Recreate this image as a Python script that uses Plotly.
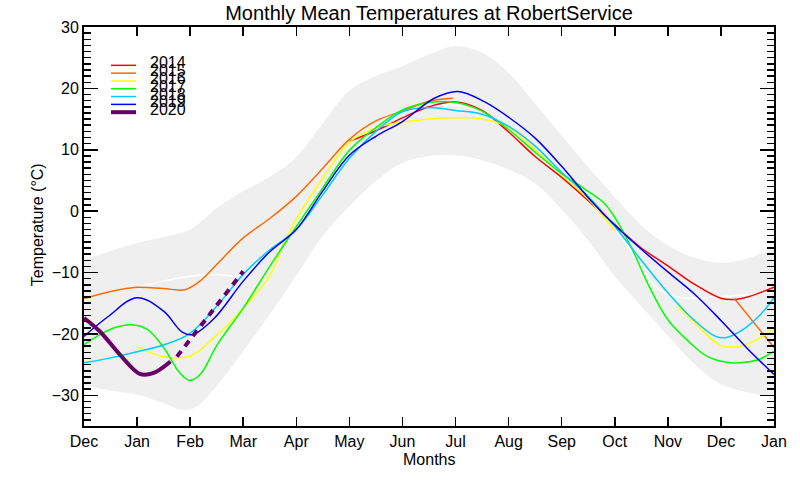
import plotly.graph_objects as go

# ---------------- data ----------------
month_labels = ["Dec", "Jan", "Feb", "Mar", "Apr", "May", "Jun", "Jul",
                "Aug", "Sep", "Oct", "Nov", "Dec", "Jan"]
month_pos = list(range(14))

band_up_x = [0, 0.5, 1, 1.5, 2, 2.5, 3, 3.5, 4, 4.5, 5, 5.5, 6, 6.5, 7, 7.5, 8,
             8.5, 9, 9.5, 10, 10.5, 11, 11.5, 12, 12.5, 13]
band_up_y = [-7.9, -6.5, -5.2, -4.2, -3.0, 0.5, 3.3, 5.6, 8.8, 14.3, 19.6, 22.0,
             23.6, 25.5, 26.9, 25.8, 22.5, 17.5, 12.3, 7.2, 2.3, -2.3, -5.6,
             -7.6, -8.4, -7.7, -6.0]
band_lo_x = [0, 0.5, 1, 1.5, 1.85, 2.1, 2.5, 3, 3.5, 4, 4.5, 5, 5.5, 6, 6.5, 7,
             7.5, 8, 8.5, 9, 9.5, 10, 10.5, 11, 11.5, 12, 12.5, 13]
band_lo_y = [-28.5, -29.2, -29.9, -31.3, -32.4, -32.0, -28.5, -22.8, -16.8,
             -10.5, -4.0, 0.8, 4.9, 7.9, 9.0, 9.1, 8.3, 6.8, 4.5, 0.3, -4.8,
             -10.6, -15.5, -20.3, -24.9, -28.2, -29.5, -30.2]

mean_x = [0, 0.5, 1, 1.5, 2, 2.5, 2.95, 3.5, 4, 4.5, 5, 5.5, 6, 6.5, 7, 7.5, 8,
          8.5, 9, 9.5, 9.85, 10.35, 10.8, 11.25, 12, 12.5, 13]
mean_y = [-14.25, -13.1, -12.4, -11.4, -10.6, -10.3, -10.5, -6.2, -2.8, 3.0,
          9.0, 13.3, 16.0, 17.0, 17.3, 16.0, 13.6, 9.8, 5.5, 1.5, -1.1, -7.1,
          -12.5, -14.1, -13.9, -13.6, -13.2]

years = ["2014", "2015", "2016", "2017", "2018", "2019", "2020"]
colors = ["#ff0000", "#ff6a00", "#ffff00", "#00ff00", "#00ccff", "#0000ee", "#660066"]

y2014_x = [5, 5.5, 6, 6.5, 7, 7.5, 8, 8.5, 9, 9.5, 10, 10.5, 11, 11.5, 12, 12.25, 12.5, 13]
y2014_y = [11.4, 13.1, 15.2, 17.0, 17.8, 16.4, 12.9, 8.9, 5.5, 1.7, -2.2, -6.0,
           -8.9, -11.9, -14.2, -14.4, -14.0, -12.4]

y2015_x = [0, 0.5, 1, 1.5, 1.9, 2.2, 2.5, 3, 3.5, 4, 4.5, 5, 5.5, 6, 6.5, 6.95,
           None, 12.26, 13]
y2015_y = [-14.25, -13.1, -12.4, -12.6, -12.8, -11.3, -8.7, -4.35, -1.2, 2.4,
           7.0, 11.7, 14.7, 16.3, 17.9, 18.4, None, -14.3, -22.2]

y2016_x = [1, 1.5, 2, 2.5, 3, 3.5, 3.75, 4, 4.5, 5, 5.5, 6, 6.5, 7, 7.5, 8, 8.5,
           9, 9.5, 10.0, None, 11.2, 11.6, 12, 12.35, 12.75, 13]
y2016_y = [-22.1, -23.7, -23.6, -20.2, -15.8, -10.5, -5.5, -1.3, 5.4, 11.2, 13.6,
           14.5, 15.0, 15.2, 15.0, 13.7, 10.0, 5.9, 2.0, -3.2, None, -15.5,
           -19.0, -21.9, -22.0, -20.6, -19.0]

y2017_x = [0, 0.3, 0.6, 0.9, 1.2, 1.5, 1.8, 2.0, 2.2, 2.5, 3, 3.5, 4, 4.5, 5,
           5.5, 6, 6.5, 7, 7.5, 8, 8.5, 9, 9.4, 9.8, 10, 10.3, 10.65, 11, 11.4,
           11.75, 12.2, 12.7, 13]
y2017_y = [-21.75, -20.1, -18.9, -18.5, -19.3, -22.2, -26.3, -27.6, -26.5,
           -21.9, -15.8, -9.0, -2.5, 3.8, 9.9, 13.6, 16.5, 17.7, 17.7, 16.3,
           13.3, 9.6, 6.1, 3.8, 1.3, -1.0, -5.7, -12.3, -17.7, -21.3, -23.7,
           -24.7, -24.2, -22.8]

y2018_x = [0, 0.5, 1, 1.5, 2, 2.5, 3, 3.5, 4, 4.5, 5, 5.5, 6, 6.5, 7, 7.5, 8,
           8.5, 9, 9.5, 10, 10.5, 11, 11.5, 11.9, 12.1, 12.4, 12.75, 13]
y2018_y = [-24.7, -23.9, -22.9, -21.8, -19.9, -15.5, -10.3, -6.3, -3.0, 2.7,
           8.6, 13.0, 16.2, 16.9, 16.4, 15.8, 13.8, 10.6, 6.3, 2.4, -2.5, -8.0,
           -13.3, -17.8, -20.4, -20.6, -19.4, -16.8, -14.1]

y2019_x = [0, 0.45, 1.0, 1.5, 1.85, 2.05, 2.45, 3, 3.5, 4, 4.5, 5, 5.5, 6, 6.6,
           7.05, 7.55, 8, 8.5, 9, 9.5, 10, 10.5, 11, 11.5, 12, 12.5, 13]
y2019_y = [-20.4, -17.2, -14.1, -16.3, -19.7, -20.1, -17.5, -11.4, -6.6, -3.0,
           3.3, 9.1, 12.2, 14.6, 18.4, 19.5, 17.8, 15.3, 11.9, 7.3, 2.2, -2.3,
           -6.2, -9.9, -13.5, -17.8, -22.4, -26.6]

y2020_x = [0, 0.3, 0.68, 1.05, 1.3, 1.63]
y2020_y = [-17.4, -19.6, -23.4, -26.5, -26.4, -24.5]
y2020_fc_x = [1.75, 3.0]
y2020_fc_y = [-23.7, -9.8]

series_x = [y2014_x, y2015_x, y2016_x, y2017_x, y2018_x, y2019_x, y2020_x]
series_y = [y2014_y, y2015_y, y2016_y, y2017_y, y2018_y, y2019_y, y2020_y]

# ---------------- figure ----------------
FONT = "Liberation Sans, Arial, Helvetica, sans-serif"
fig = go.Figure()

fig.add_trace(go.Scatter(x=band_up_x, y=band_up_y, mode="lines",
                         line=dict(width=0, shape="spline"), hoverinfo="skip",
                         showlegend=False))
fig.add_trace(go.Scatter(x=band_lo_x, y=band_lo_y, mode="lines",
                         line=dict(width=0, shape="spline"), fill="tonexty",
                         fillcolor="#efefef", hoverinfo="skip", showlegend=False))
fig.add_trace(go.Scatter(x=mean_x, y=mean_y, mode="lines",
                         line=dict(width=1.5, color="white", shape="spline"),
                         showlegend=False))

for i, yr in enumerate(years):
    w = 4 if yr == "2020" else 1.5
    fig.add_trace(go.Scatter(x=series_x[i], y=series_y[i], mode="lines",
                             name=yr, connectgaps=False,
                             line=dict(width=w, color=colors[i], shape="spline"),
                             showlegend=False))

fig.add_trace(go.Scatter(x=y2020_fc_x, y=y2020_fc_y, mode="lines",
                         line=dict(width=4, color=colors[6], dash="7px,6px"),
                         showlegend=False))

# manual IDL-style legend
L, R, T, B = 84, 26, 27, 54.4
W, H = 800 - L - R, 480 - T - B
def px_to_paper(px, py):
    return (px - L) / W, (480 - B - py) / H

leg_y0, leg_dy = 65.3, 7.8
for i, yr in enumerate(years):
    py = leg_y0 + i * leg_dy
    x0, yy = px_to_paper(111, py)
    x1, _ = px_to_paper(136, py)
    fig.add_shape(type="line", xref="paper", yref="paper", x0=x0, x1=x1,
                  y0=yy, y1=yy,
                  line=dict(color=colors[i], width=4 if yr == "2020" else 1.5))
    tx, ty = px_to_paper(148, py - 2.5)
    fig.add_annotation(xref="paper", yref="paper", x=tx, y=ty, text=yr,
                       showarrow=False, xanchor="left", yanchor="middle",
                       font=dict(family=FONT, size=16, color="black"))

# axis titles
ax, ay = px_to_paper(430, 459)
fig.add_annotation(xref="paper", yref="paper", x=0.5, y=ay, text="Months",
                   showarrow=False, xanchor="center", yanchor="middle",
                   font=dict(family=FONT, size=16, color="black"))
bx, by = px_to_paper(37, 225)
fig.add_annotation(xref="paper", yref="paper", x=bx, y=by,
                   text="Temperature (°C)", textangle=-90, showarrow=False,
                   xanchor="center", yanchor="middle",
                   font=dict(family=FONT, size=16, color="black"))

fig.update_layout(
    width=800, height=480, autosize=False,
    margin=dict(l=L, r=R, t=T, b=B),
    paper_bgcolor="white", plot_bgcolor="white",
    font=dict(family=FONT, size=16, color="black"),
    title=dict(text="Monthly Mean Temperatures at RobertService",
               x=0.5, xref="paper", xanchor="center",
               y=1 - 13 / 480, yref="container", yanchor="middle",
               font=dict(family=FONT, size=20, color="black")),
    showlegend=False,
)
fig.update_xaxes(range=[0, 13], tickmode="array", tickvals=month_pos,
                 ticktext=month_labels, ticks="inside", ticklen=9,
                 tickwidth=1.5, tickcolor="black", showline=True,
                 linewidth=2, linecolor="black", mirror="allticks",
                 showgrid=False, zeroline=False,
                 tickfont=dict(family=FONT, size=16, color="black"))
fig.update_yaxes(range=[-35, 30], tick0=0, dtick=10, ticks="inside",
                 ticklen=14, tickwidth=1.5, tickcolor="black",
                 minor=dict(dtick=1, ticklen=7, ticks="inside", tickwidth=1.5,
                            tickcolor="black", showgrid=False),
                 showline=True, linewidth=2, linecolor="black",
                 mirror="allticks", showgrid=False, zeroline=False,
                 tickfont=dict(family=FONT, size=16, color="black"))

fig.write_html("out.html",
               config={"displayModeBar": False, "staticPlot": True},
               post_script="document.body.style.margin='0px';"
                           "document.body.style.padding='0px';")
